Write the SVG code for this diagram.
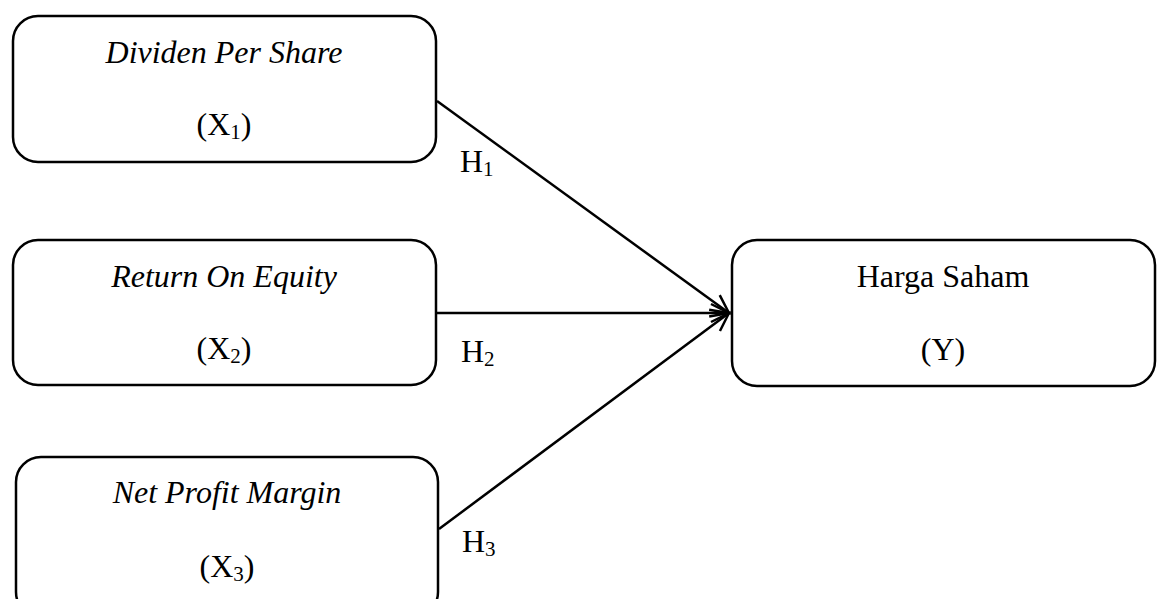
<svg xmlns="http://www.w3.org/2000/svg" width="1160" height="599" viewBox="0 0 1160 599">
<defs>
<style>
.box{fill:#fff;stroke:#000;stroke-width:2.5}
.t{font-family:"Liberation Serif","Times New Roman",serif;font-size:32px;fill:#000;text-anchor:middle}
.i{font-style:italic}
.h{font-family:"Liberation Serif","Times New Roman",serif;font-size:32px;fill:#000}
.sub{font-size:21px}
.c{fill:none;stroke:#000;stroke-width:2.5}
</style>
<marker id="arr" markerWidth="26" markerHeight="26" refX="21" refY="13" orient="auto" markerUnits="userSpaceOnUse">
<path d="M3,4 L21,13 L3,22" fill="none" stroke="#000" stroke-width="2.5"/>
</marker>
</defs>
<rect width="1160" height="599" fill="#fff"/>
<g id="connectors">
<line class="c" x1="437" y1="101" x2="729" y2="313" marker-end="url(#arr)"/>
<line class="c" x1="436" y1="313" x2="729" y2="313" marker-end="url(#arr)"/>
<line class="c" x1="439" y1="529" x2="729" y2="313" marker-end="url(#arr)"/>
<text class="h" x="460" y="172">H<tspan class="sub" dy="4">1</tspan></text>
<text class="h" x="461" y="362">H<tspan class="sub" dy="4">2</tspan></text>
<text class="h" x="462" y="552">H<tspan class="sub" dy="4">3</tspan></text>
</g>
<g id="node-x1">
<rect class="box" x="13" y="16" width="423" height="146" rx="25"/>
<text class="t i" x="224" y="63">Dividen Per Share</text>
<text class="t" x="224" y="135">(X<tspan class="sub" dy="4">1</tspan><tspan dy="-4">)</tspan></text>
</g>
<g id="node-x2">
<rect class="box" x="13" y="240" width="423" height="145" rx="25"/>
<text class="t i" x="224" y="287">Return On Equity</text>
<text class="t" x="224" y="359">(X<tspan class="sub" dy="4">2</tspan><tspan dy="-4">)</tspan></text>
</g>
<g id="node-x3">
<rect class="box" x="16" y="457" width="422" height="160" rx="25"/>
<text class="t i" x="227" y="503">Net Profit Margin</text>
<text class="t" x="227" y="577">(X<tspan class="sub" dy="4">3</tspan><tspan dy="-4">)</tspan></text>
</g>
<g id="node-y">
<rect class="box" x="732" y="240" width="423" height="146" rx="25"/>
<text class="t" x="943" y="287">Harga Saham</text>
<text class="t" x="943" y="360">(Y)</text>
</g>
</svg>
